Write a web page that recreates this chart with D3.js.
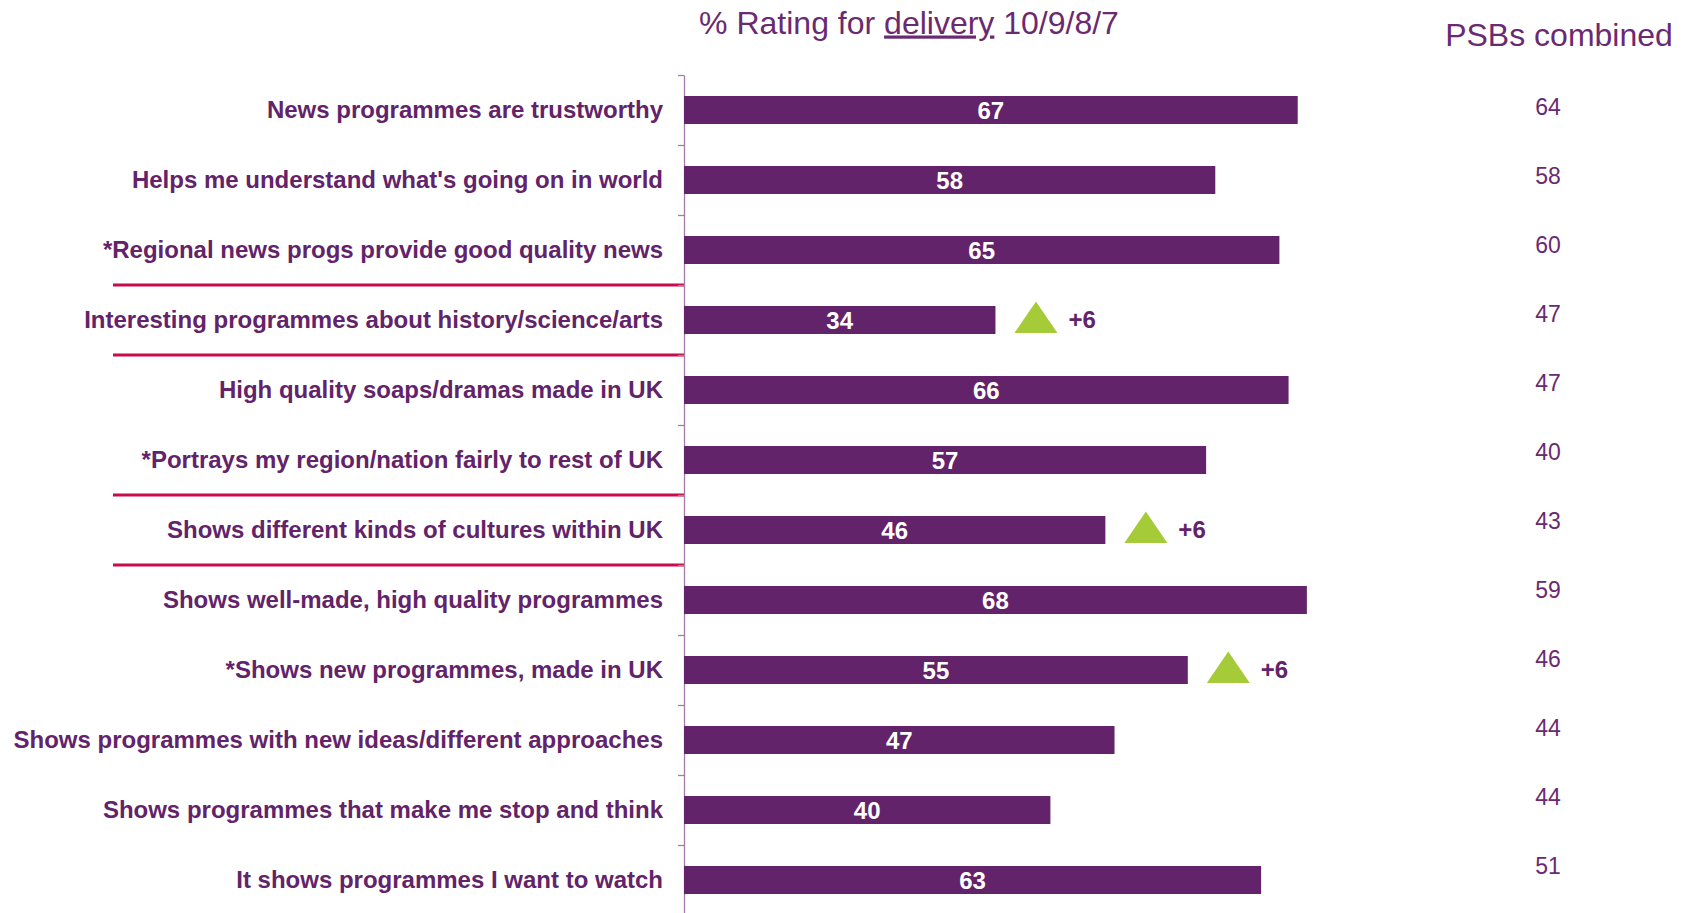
<!DOCTYPE html>
<html>
<head>
<meta charset="utf-8">
<script src="https://cdn.jsdelivr.net/npm/d3@7"></script>
<style>
  html, body { margin: 0; padding: 0; background: #ffffff; }
  svg { display: block; }
  text { font-family: "Liberation Sans", Arial, Helvetica, sans-serif; }
</style>
</head>
<body>
<svg id="chart" width="1690" height="913"></svg>
<script>
// Statements rated by viewers
const categories = [
  "News programmes are trustworthy",
  "Helps me understand what's going on in world",
  "*Regional news progs provide good quality news",
  "Interesting programmes about history/science/arts",
  "High quality soaps/dramas made in UK",
  "*Portrays my region/nation fairly to rest of UK",
  "Shows different kinds of cultures within UK",
  "Shows well-made, high quality programmes",
  "*Shows new programmes, made in UK",
  "Shows programmes with new ideas/different approaches",
  "Shows programmes that make me stop and think",
  "It shows programmes I want to watch"
];

// % rating 10/9/8/7 for delivery
const delivery = [67, 58, 65, 34, 66, 57, 46, 68, 55, 47, 40, 63];

// Significant change vs previous wave (null = no change flagged)
const change = [null, null, null, 6, null, null, 6, null, 6, null, null, null];

// PSBs combined comparison column
const psbCombined = [64, 58, 60, 47, 47, 40, 43, 59, 46, 44, 44, 51];

// Group divider positions (after these row counts)
const dividers = [3, 4, 6, 7];

const purple = "#62236a";
const textPurple = "#6a2a72";
const red = "#c70b4d";
const green = "#a6cb38";

const svg = d3.select("#chart");

const x = d3.scaleLinear().domain([0, 100]).range([684, 1600]);
const y = d3.scaleBand().domain(categories).range([75, 915])
  .paddingInner(0.6).paddingOuter(0.3);
const rowEdge = d3.scaleLinear().domain([0, categories.length]).range([75, 915]);
const psbY = d3.scalePoint().domain(categories).range([115, 874]);

// Title
const title = svg.append("text")
  .attr("x", 909).attr("y", 33.5)
  .attr("text-anchor", "middle")
  .attr("font-size", 32)
  .attr("fill", textPurple);
title.append("tspan").text("% Rating for ");
title.append("tspan").attr("text-decoration", "underline").text("delivery");
title.append("tspan").text(" 10/9/8/7");

svg.append("text")
  .attr("x", 1559).attr("y", 46)
  .attr("text-anchor", "middle")
  .attr("font-size", 32)
  .attr("fill", textPurple)
  .text("PSBs combined");

// Group dividers
svg.append("g").selectAll("line")
  .data(dividers)
  .join("line")
  .attr("x1", 113).attr("x2", x(0))
  .attr("y1", d => rowEdge(d)).attr("y2", d => rowEdge(d))
  .attr("stroke", red)
  .attr("stroke-width", 3);

// Category axis with ticks between rows
const axis = svg.append("g")
  .attr("transform", `translate(${x(0)},0)`)
  .call(d3.axisLeft(rowEdge)
    .tickValues(d3.range(0, categories.length + 1))
    .tickSize(6).tickSizeOuter(0)
    .tickFormat(""));
axis.selectAll("path, line").attr("stroke", "#a47aa9").attr("stroke-width", 1.3);

// Category labels
svg.append("g").selectAll("text")
  .data(categories)
  .join("text")
  .attr("x", 663)
  .attr("y", d => y(d) + y.bandwidth() / 2)
  .attr("dy", "0.35em")
  .attr("text-anchor", "end")
  .attr("font-size", 24)
  .attr("font-weight", "bold")
  .attr("fill", purple)
  .text(d => d);

// Bars
svg.append("g").selectAll("rect")
  .data(categories)
  .join("rect")
  .attr("x", x(0))
  .attr("y", d => y(d))
  .attr("width", (d, i) => x(delivery[i]) - x(0))
  .attr("height", y.bandwidth())
  .attr("fill", purple);

// Values inside bars
svg.append("g").selectAll("text")
  .data(categories)
  .join("text")
  .attr("x", (d, i) => (x(0) + x(delivery[i])) / 2)
  .attr("y", d => y(d) + y.bandwidth() / 2)
  .attr("dy", "0.37em")
  .attr("text-anchor", "middle")
  .attr("font-size", 24)
  .attr("font-weight", "bold")
  .attr("fill", "#ffffff")
  .text((d, i) => delivery[i]);

// Change markers
const flagged = categories.map((c, i) => ({ c, v: delivery[i], ch: change[i] }))
  .filter(d => d.ch != null);

const marks = svg.append("g").selectAll("g")
  .data(flagged)
  .join("g")
  .attr("transform", d => `translate(${x(d.v) + 19},${y(d.c) + y.bandwidth() / 2})`);

marks.append("path")
  .attr("d", "M0,13 L21.5,-18.5 L43,13 Z")
  .attr("fill", green);

marks.append("text")
  .attr("x", 54)
  .attr("dy", "0.35em")
  .attr("font-size", 24)
  .attr("font-weight", "bold")
  .attr("fill", purple)
  .text(d => "+" + d.ch);

// PSBs combined column
svg.append("g").selectAll("text")
  .data(categories)
  .join("text")
  .attr("x", 1548)
  .attr("y", d => psbY(d))
  .attr("text-anchor", "middle")
  .attr("font-size", 23)
  .attr("fill", textPurple)
  .text((d, i) => psbCombined[i]);
</script>
</body>
</html>
